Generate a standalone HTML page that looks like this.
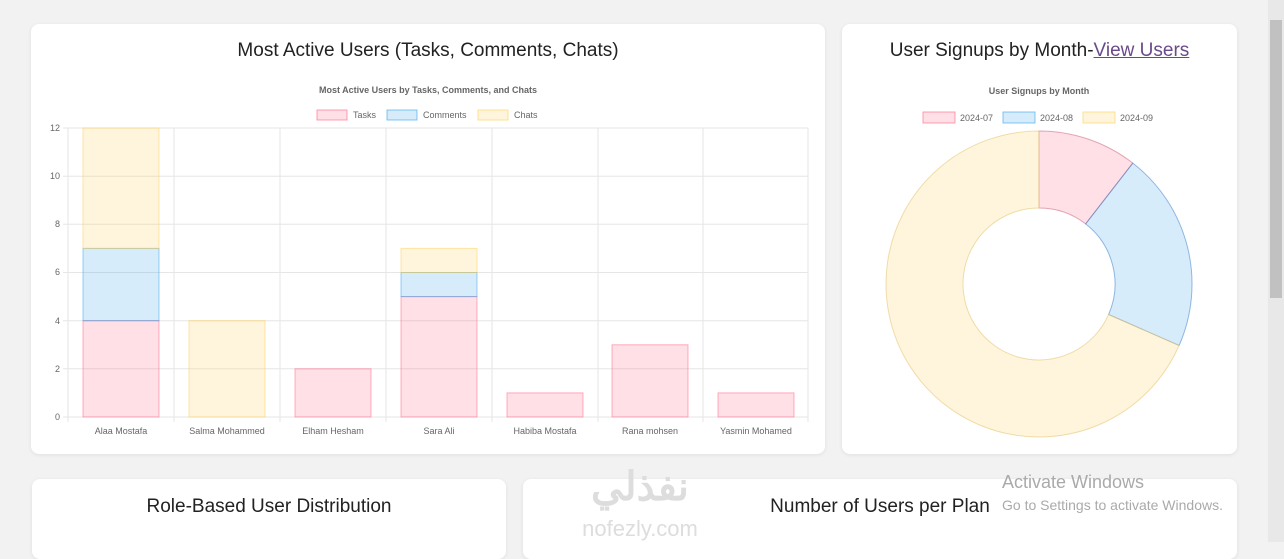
<!DOCTYPE html>
<html><head><meta charset="utf-8"><style>
body{margin:0;width:1284px;height:542px;background:#f2f2f2;font-family:"Liberation Sans",sans-serif;overflow:hidden;position:relative}
.card{position:absolute;background:#fff;border-radius:8px;box-shadow:0 1px 4px rgba(0,0,0,0.08)}
h2{margin:0;font-weight:normal;font-size:19px;color:#222;text-align:center;position:absolute;left:0;right:0}
a{color:#6a4a8a}
</style></head><body>
<div class="card" style="left:31px;top:24px;width:794px;height:430px"><h2 style="top:16px">Most Active Users (Tasks, Comments, Chats)</h2></div>
<div class="card" style="left:842px;top:24px;width:395px;height:430px"><h2 style="top:16px">User Signups by Month-<a href="#">View Users</a></h2></div>
<div class="card" style="left:32px;top:479px;width:474px;height:80px"><h2 style="top:17px">Role-Based User Distribution</h2></div>
<div class="card" style="left:523px;top:479px;width:714px;height:80px"><h2 style="top:17px">Number of Users per Plan</h2></div>
<div style="position:absolute;left:1268px;top:0;width:16px;height:542px;background:#e8e8e8"></div>
<div style="position:absolute;left:1270px;top:20px;width:12px;height:278px;background:#c1c1c1"></div>
<div style="position:absolute;left:1002px;top:472px;font-size:18px;color:#aaa">Activate Windows</div>
<div style="position:absolute;left:1002px;top:497px;font-size:14px;color:#aaa">Go to Settings to activate Windows.</div>
<svg style="position:absolute;left:0;top:0" width="1284" height="542" font-family="Liberation Sans, sans-serif">
<text x="428" y="93" font-size="9" font-weight="bold" fill="#666" text-anchor="middle">Most Active Users by Tasks, Comments, and Chats</text>
<rect x="317" y="110" width="30" height="10" fill="rgba(255,99,132,0.2)" stroke="rgba(255,99,132,0.6)"/><text x="353" y="118" font-size="9" fill="#666">Tasks</text>
<rect x="387" y="110" width="30" height="10" fill="rgba(54,162,235,0.2)" stroke="rgba(54,162,235,0.6)"/><text x="423" y="118" font-size="9" fill="#666">Comments</text>
<rect x="478" y="110" width="30" height="10" fill="rgba(255,206,86,0.2)" stroke="rgba(255,206,86,0.6)"/><text x="514" y="118" font-size="9" fill="#666">Chats</text>
<g stroke="#e6e6e6" stroke-width="1">
<line x1="63" y1="128" x2="808" y2="128"/><line x1="63" y1="176.2" x2="808" y2="176.2"/><line x1="63" y1="224.3" x2="808" y2="224.3"/><line x1="63" y1="272.5" x2="808" y2="272.5"/><line x1="63" y1="320.7" x2="808" y2="320.7"/><line x1="63" y1="368.8" x2="808" y2="368.8"/><line x1="63" y1="417" x2="808" y2="417"/>
<line x1="68" y1="128" x2="68" y2="422"/><line x1="174" y1="128" x2="174" y2="422"/><line x1="280" y1="128" x2="280" y2="422"/><line x1="386" y1="128" x2="386" y2="422"/><line x1="492" y1="128" x2="492" y2="422"/><line x1="598" y1="128" x2="598" y2="422"/><line x1="703" y1="128" x2="703" y2="422"/><line x1="808" y1="128" x2="808" y2="422"/>
</g>
<g font-size="9" fill="#666" text-anchor="end">
<text x="60" y="131">12</text><text x="60" y="179">10</text><text x="60" y="227">8</text><text x="60" y="275">6</text><text x="60" y="324">4</text><text x="60" y="372">2</text><text x="60" y="420">0</text></g>
<g font-size="9" fill="#666" text-anchor="middle">
<text x="121" y="434">Alaa Mostafa</text><text x="227" y="434">Salma Mohammed</text><text x="333" y="434">Elham Hesham</text><text x="439" y="434">Sara Ali</text><text x="545" y="434">Habiba Mostafa</text><text x="650" y="434">Rana mohsen</text><text x="756" y="434">Yasmin Mohamed</text></g>
<g fill="rgba(255,99,132,0.2)" stroke="rgba(255,99,132,0.5)">
<rect x="83" y="320.7" width="76" height="96.3"/><rect x="295" y="368.8" width="76" height="48.2"/><rect x="401" y="296.6" width="76" height="120.4"/><rect x="507" y="392.9" width="76" height="24.1"/><rect x="612" y="344.8" width="76" height="72.2"/><rect x="718" y="392.9" width="76" height="24.1"/></g>
<g fill="rgba(54,162,235,0.2)" stroke="rgba(54,162,235,0.5)">
<rect x="83" y="248.4" width="76" height="72.3"/><rect x="401" y="272.5" width="76" height="24.1"/></g>
<g fill="rgba(255,206,86,0.2)" stroke="rgba(255,206,86,0.5)">
<rect x="83" y="128" width="76" height="120.4"/><rect x="189" y="320.7" width="76" height="96.3"/><rect x="401" y="248.4" width="76" height="24.1"/></g>
<text x="1039" y="94" font-size="9" font-weight="bold" fill="#666" text-anchor="middle">User Signups by Month</text>
<rect x="923" y="112" width="32" height="11" fill="rgba(255,99,132,0.2)" stroke="rgba(255,99,132,0.6)"/><text x="960" y="121" font-size="9" fill="#666">2024-07</text>
<rect x="1003" y="112" width="32" height="11" fill="rgba(54,162,235,0.2)" stroke="rgba(54,162,235,0.6)"/><text x="1040" y="121" font-size="9" fill="#666">2024-08</text>
<rect x="1083" y="112" width="32" height="11" fill="rgba(255,206,86,0.2)" stroke="rgba(255,206,86,0.6)"/><text x="1120" y="121" font-size="9" fill="#666">2024-09</text>
<path d="M1039,131 A153,153 0 0 1 1132.8,163.1 L1085.6,223.9 A76,76 0 0 0 1039,208 Z" fill="rgba(255,99,132,0.2)" stroke="rgba(200,90,120,0.5)"/>
<path d="M1132.8,163.1 A153,153 0 0 1 1179.1,345.5 L1108.6,314.5 A76,76 0 0 0 1085.6,223.9 Z" fill="rgba(54,162,235,0.2)" stroke="rgba(54,120,200,0.5)"/>
<path d="M1179.1,345.5 A153,153 0 1 1 1039,131 L1039,208 A76,76 0 1 0 1108.6,314.5 Z" fill="rgba(255,206,86,0.2)" stroke="rgba(230,200,120,0.6)"/>
<text x="640" y="500" font-size="40" font-weight="bold" fill="#ddd" text-anchor="middle">نفذلي</text>
<text x="640" y="536" font-size="22" fill="#ddd" text-anchor="middle">nofezly.com</text>
</svg>
</body></html>
